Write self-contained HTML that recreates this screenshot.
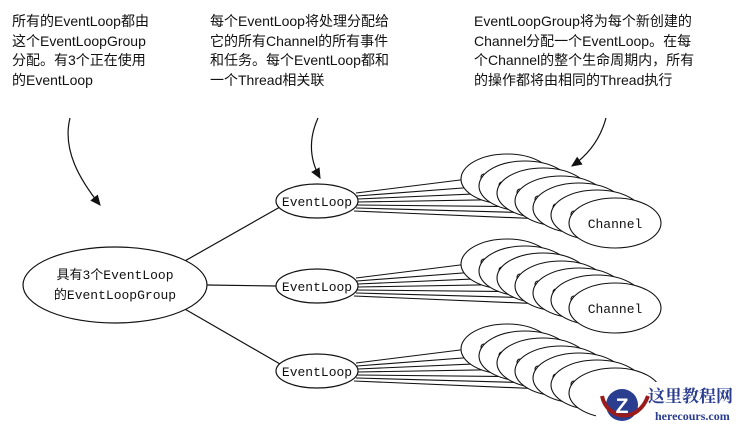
<!DOCTYPE html>
<html><head><meta charset="utf-8"><style>
body{margin:0;background:#fff;width:738px;height:428px;overflow:hidden;position:relative;font-family:"Liberation Sans","Noto Sans CJK SC",sans-serif}
.t{position:absolute;font-size:14px;line-height:19.5px;color:#111}
</style></head><body>
<svg width="738" height="428" style="position:absolute;left:0;top:0" font-family="Liberation Mono, monospace">
<defs><marker id="a" markerWidth="10" markerHeight="10" refX="8" refY="5" orient="auto"><path d="M0,1 L9,5 L0,9z" fill="#111"/></marker></defs>
<g stroke="#111" fill="none" stroke-width="1.2">
<path d="M70,118 C62,150 80,180 100,205" marker-end="url(#a)"/>
<path d="M318,118 C308,140 310,160 320,178" marker-end="url(#a)"/>
<path d="M606,118 C600,140 588,155 572,166" marker-end="url(#a)"/>
<line x1="183" y1="262" x2="280" y2="207"/>
<line x1="207" y1="285" x2="276" y2="286"/>
<line x1="183" y1="308" x2="280" y2="364"/>
</g>
<g id="grp" stroke="#111" stroke-width="1.1">
<g fill="none">
<line x1="356" y1="193" x2="484" y2="177"/><line x1="357" y1="196" x2="502" y2="185"/>
<line x1="358" y1="199" x2="520" y2="192"/><line x1="358" y1="202" x2="538" y2="199"/>
<line x1="357" y1="205" x2="556" y2="207"/><line x1="356" y1="208" x2="574" y2="214"/>
<line x1="354" y1="211" x2="592" y2="221"/>
</g>
<g fill="#fff">
<ellipse cx="507" cy="179" rx="46" ry="25"/><circle cx="484" cy="177" r="3"/>
<ellipse cx="525" cy="186" rx="46" ry="25"/><circle cx="502" cy="185" r="3"/>
<ellipse cx="543" cy="193" rx="46" ry="25"/><circle cx="520" cy="192" r="3"/>
<ellipse cx="561" cy="201" rx="46" ry="25"/><circle cx="538" cy="199" r="3"/>
<ellipse cx="579" cy="208" rx="46" ry="25"/><circle cx="556" cy="207" r="3"/>
<ellipse cx="597" cy="215" rx="46" ry="25"/><circle cx="574" cy="214" r="3"/>
<ellipse cx="615" cy="223" rx="46" ry="25"/>
</g>
</g>
<use href="#grp" y="85"/>
<use href="#grp" y="170"/>
<g stroke="#111" stroke-width="1.2" fill="#fff">
<ellipse cx="115" cy="285" rx="92" ry="38"/>
<ellipse cx="317" cy="201" rx="41" ry="17"/>
<ellipse cx="317" cy="286" rx="41" ry="17"/>
<ellipse cx="317" cy="371" rx="41" ry="17"/>
</g>
<g font-size="13" fill="#111" text-anchor="middle">
<text x="317" y="206">EventLoop</text>
<text x="317" y="291">EventLoop</text>
<text x="317" y="376">EventLoop</text>
<text x="615" y="228">Channel</text>
<text x="615" y="313">Channel</text>
<text x="115" y="279" font-family="Liberation Mono, Noto Sans CJK SC, monospace">具有3个EventLoop</text>
<text x="115" y="299" font-family="Liberation Mono, Noto Sans CJK SC, monospace">的EventLoopGroup</text>
</g>
<rect x="596" y="382" width="142" height="46" fill="#fff"/>
<circle cx="622" cy="405" r="16" fill="#2a3d8f"/>
<path d="M602,396 C607,420 638,424 648,396" stroke="#9b1b1b" stroke-width="4" fill="none"/>
<text x="622" y="413" font-size="21" font-weight="bold" fill="#fff" text-anchor="middle" font-family="Liberation Sans">Z</text>
<text x="648" y="402" font-size="17" font-weight="bold" fill="#2a3d8f" font-family="Noto Serif CJK SC, serif">这里教程网</text>
<text x="655" y="420" font-size="12" font-weight="bold" fill="#2a3d8f" font-family="Liberation Serif, serif">herecours.com</text>
</svg>
<div class="t" style="left:12px;top:12px">所有的EventLoop都由<br>这个EventLoopGroup<br>分配。有3个正在使用<br>的EventLoop</div>
<div class="t" style="left:210px;top:12px">每个EventLoop将处理分配给<br>它的所有Channel的所有事件<br>和任务。每个EventLoop都和<br>一个Thread相关联</div>
<div class="t" style="left:474px;top:12px">EventLoopGroup将为每个新创建的<br>Channel分配一个EventLoop。在每<br>个Channel的整个生命周期内，所有<br>的操作都将由相同的Thread执行</div>
</body></html>
